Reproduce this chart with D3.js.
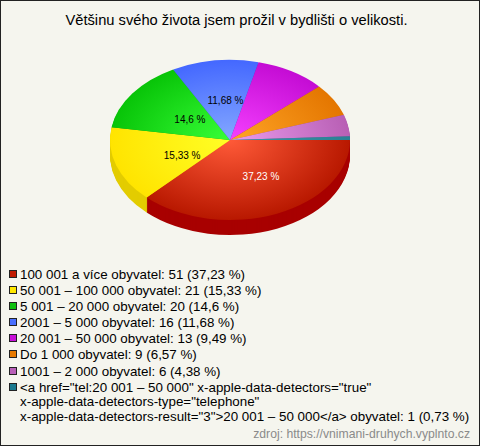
<!DOCTYPE html>
<html><head><meta charset="utf-8">
<script src="https://cdn.jsdelivr.net/npm/d3@7"></script>
<style>html,body{margin:0;padding:0;background:#f5f5ee}svg{display:block}text{font-family:"Liberation Sans",Arial,sans-serif}</style>
</head><body><svg id="c" width="480" height="446"></svg>
<script>
const title = "Většinu svého života jsem prožil v bydlišti o velikosti.";
const categories = ["100 001 a více obyvatel","50 001 – 100 000 obyvatel","5 001 – 20 000 obyvatel","2001 – 5 000 obyvatel","20 001 – 50 000 obyvatel","Do 1 000 obyvatel","1001 – 2 000 obyvatel","<a href=\"tel:20 001 – 50 000\" x-apple-data-detectors=\"true\"|x-apple-data-detectors-type=\"telephone\"|x-apple-data-detectors-result=\"3\">20 001 – 50 000</a> obyvatel"];
const counts = [51,21,20,16,13,9,6,1];
const percents = ["37,23","15,33","14,6","11,68","9,49","6,57","4,38","0,73"];
const sliceLabels = ["37,23 %","15,33 %","14,6 %","11,68 %","","","",""];
const innerColors = ["#ff5a38","#ffff26","#38ff38","#84a8ff","#f540ff","#ffa526","#ea9cee","#3a98a8"];
const outerColors = ["#b81800","#ffe400","#08c408","#4468ff","#c40cd4","#e47600","#b85fb4","#2a8094"];
const swatchColors = ["#c01a00","#ffe800","#10c010","#4a70ff","#c810d8","#e87a00","#b85fb8","#1a7a90"];
const sideColors = ["#a80000","#e3cc00","#0a9a0a","#3050c0","#9a0aa5","#b86000","#905090","#1a6070"];

const svg = d3.select("#c");
svg.append("rect").attr("x",0.5).attr("y",0.5).attr("width",479).attr("height",445)
  .attr("fill","#f5f5ee").attr("stroke","#222");
svg.append("text").attr("x",236.5).attr("y",25).attr("text-anchor","middle")
  .attr("font-size",14.7).attr("fill","#000").text(title);

const cx=230, cy=140, R=120, squash=2/3, depth=15;
const pie = d3.pie().sort(null).startAngle(Math.PI/2).endAngle(Math.PI/2+2*Math.PI);
const arcs = pie(counts);
const arc = d3.arc().innerRadius(0).outerRadius(R);
const defs = svg.append("defs");
arcs.forEach((d,i)=>{
  const g = defs.append("radialGradient").attr("id","g"+i).attr("gradientUnits","userSpaceOnUse")
    .attr("cx",0).attr("cy",0).attr("r",R);
  g.append("stop").attr("offset","0%").attr("stop-color",innerColors[i]);
  g.append("stop").attr("offset","100%").attr("stop-color",outerColors[i]);
});
for(let k=depth;k>=1;k--){
  svg.append("g").attr("transform",`translate(${cx},${cy+k}) scale(1,${squash})`)
    .selectAll("path").data(arcs).join("path")
    .attr("d",arc).attr("fill",(d,i)=>sideColors[i]);
}
const topFace = svg.append("g").attr("transform",`translate(${cx},${cy}) scale(1,${squash})`);
topFace.selectAll("path").data(arcs).join("path").attr("d",arc).attr("fill",(d,i)=>`url(#g${i})`);

const labelFactorX=[.66,.42,.41,.30,0,0,0,0], labelFactorY=[.5,.6,.44,.5,0,0,0,0];
const midAngle=d=>(d.startAngle+d.endAngle)/2;
svg.append("g").selectAll("text").data(arcs).join("text")
  .attr("x",(d,i)=>cx+Math.sin(midAngle(d))*R*labelFactorX[i])
  .attr("y",(d,i)=>cy-Math.cos(midAngle(d))*R*squash*labelFactorY[i]+3.5)
  .attr("text-anchor","middle").attr("font-size",10)
  .attr("fill",(d,i)=>i===0?"#fff":"#000")
  .text((d,i)=>sliceLabels[i]);

const rowY=[274,290,306,322,338,354,371,387];
const lineGap=14.5;
const leg = svg.append("g");
categories.forEach((c,i)=>{
  const y=rowY[i];
  leg.append("rect").attr("x",9.5).attr("y",y-3.5).attr("width",7).attr("height",7)
    .attr("fill",swatchColors[i]).attr("stroke","#222");
  const lines=(c+": "+counts[i]+" ("+percents[i]+" %)").split("|");
  lines.forEach((t,j)=>{
    leg.append("text").attr("x",20).attr("y",y+4.5+j*lineGap).attr("font-size",13.36).attr("fill","#000").text(t);
  });
});
svg.append("text").attr("x",470).attr("y",437.5).attr("text-anchor","end")
  .attr("font-size",12.2).attr("fill","#8a8a8a").text("zdroj: https://vnimani-druhych.vyplnto.cz");
</script></body></html>
